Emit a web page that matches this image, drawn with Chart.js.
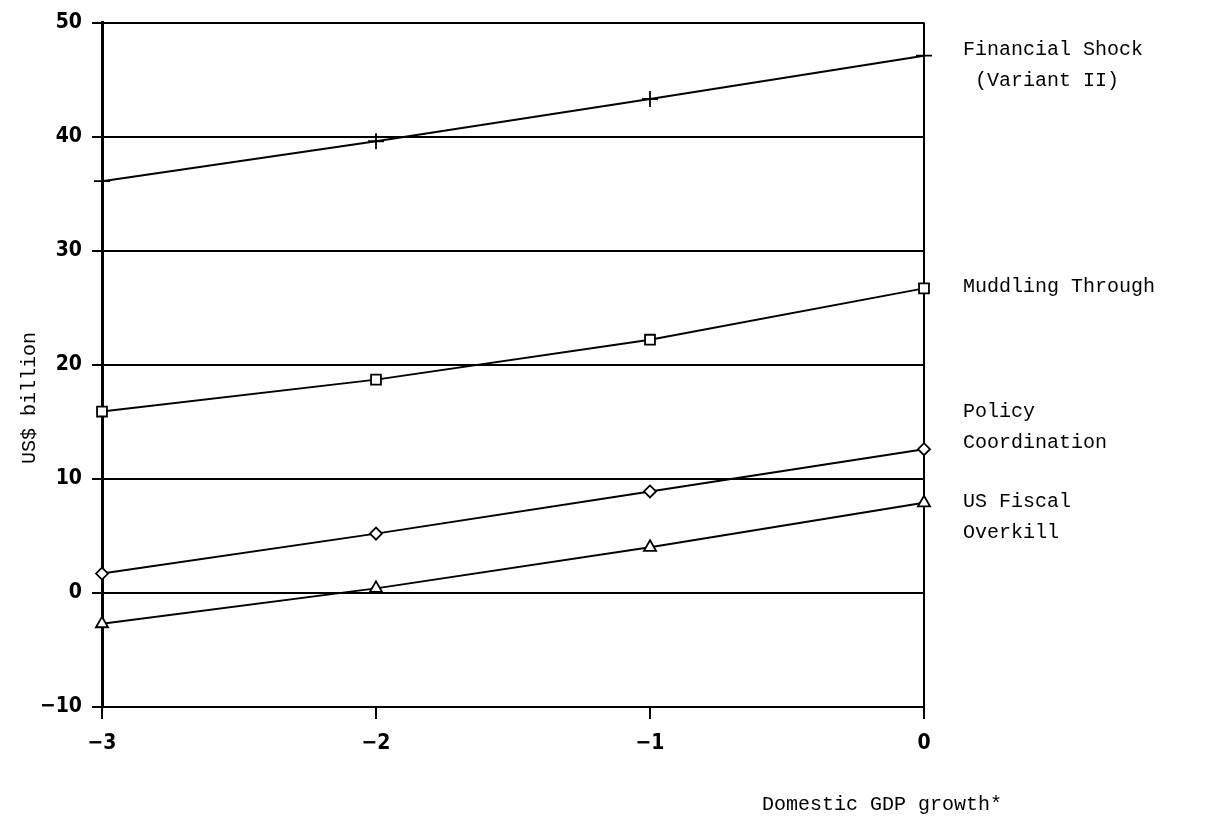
<!DOCTYPE html>
<html>
<head>
<meta charset="utf-8">
<script src="https://cdn.jsdelivr.net/npm/chart.js@4"></script>
<style>
  body { margin: 0; background: #fff; }
  canvas { display: block; }
</style>
</head>
<body>
<canvas id="chart" width="1224" height="826"></canvas>
<script>
// Domestic GDP growth (x) and the four scenarios (US$ billion)
const growth = [-3, -2, -1, 0];
const financialShock = [36.1, 39.6, 43.3, 47.1];
const muddlingThrough = [15.9, 18.7, 22.2, 26.7];
const policyCoordination = [1.7, 5.2, 8.9, 12.6];
const usFiscalOverkill = [-2.7, 0.4, 4.0, 7.9];
const yTicks = [-10, 0, 10, 20, 30, 40, 50];

const tickFont = { family: "'Liberation Sans Narrow', 'DejaVu Sans Condensed', sans-serif", size: 21, weight: 'bold' };
const textFont = "20px 'Liberation Mono', 'DejaVu Sans Mono', monospace";

function toPoints(values) {
    return growth.map((g, i) => ({ x: g, y: values[i] }));
}

function series(label, values, style, radius) {
    return {
        label: label,
        data: toPoints(values),
        borderColor: '#000',
        borderWidth: 2,
        pointStyle: style,
        pointRadius: radius,
        pointBorderWidth: 1.8,
        pointBorderColor: '#000',
        pointBackgroundColor: '#fff',
        tension: 0,
        clip: false
    };
}

// Text beside the lines and axis titles
const sideLabels = [
    { lines: ['Financial Shock', ' (Variant II)'], dx: 39, y: 50 },
    { lines: ['Muddling Through'], dx: 39, y: 287 },
    { lines: ['Policy', 'Coordination'], dx: 39, y: 412 },
    { lines: ['US Fiscal', 'Overkill'], dx: 39, y: 502 }
];

const textPlugin = {
    id: 'texts',
    afterDraw(chart) {
        const c = chart.ctx;
        const area = chart.chartArea;
        c.save();
        c.fillStyle = '#000';
        c.font = textFont;
        c.textBaseline = 'middle';
        c.textAlign = 'left';
        sideLabels.forEach(lbl => {
            lbl.lines.forEach((t, i) => {
                c.fillText(t, area.right + lbl.dx, lbl.y + i * 31);
            });
        });
        c.textAlign = 'center';
        c.fillText('Domestic GDP growth*', 882, 805);
        c.translate(30, 398);
        c.rotate(-Math.PI / 2);
        c.fillText('US$ billion', 0, 0);
        c.restore();
    }
};

new Chart(document.getElementById('chart'), {
    type: 'line',
    data: {
        datasets: [
            series('Financial Shock (Variant II)', financialShock, 'cross', 8),
            series('Muddling Through', muddlingThrough, 'rect', 7),
            series('Policy Coordination', policyCoordination, 'rectRot', 6),
            series('US Fiscal Overkill', usFiscalOverkill, 'triangle', 7)
        ]
    },
    options: {
        responsive: false,
        animation: false,
        layout: { padding: { left: 0, right: 300, top: 18, bottom: 0 } },
        plugins: {
            legend: { display: false },
            tooltip: { enabled: false }
        },
        scales: {
            x: {
                type: 'linear',
                min: -3,
                max: 0,
                afterFit(scale) { scale.height = 119; },
                afterBuildTicks(scale) { scale.ticks = growth.map(v => ({ value: v })); },
                border: { display: true, color: '#000', width: 2 },
                grid: {
                    color: ctx => (ctx.tick && ctx.tick.value === 0) ? '#000' : 'rgba(0,0,0,0)',
                    lineWidth: 2,
                    tickColor: '#000',
                    tickLength: 12,
                    drawTicks: true
                },
                ticks: {
                    color: '#000',
                    font: tickFont,
                    padding: 12,
                    callback: v => (v < 0 ? '\u2212' + Math.abs(v) : String(v))
                }
            },
            y: {
                min: -10,
                max: 50,
                afterFit(scale) { scale.width = 102; },
                afterBuildTicks(scale) { scale.ticks = yTicks.map(v => ({ value: v })); },
                border: { display: true, color: '#000', width: 3 },
                grid: {
                    color: '#000',
                    lineWidth: 2,
                    tickColor: '#000',
                    tickLength: 10,
                    drawTicks: true
                },
                ticks: {
                    color: '#000',
                    font: tickFont,
                    padding: 10,
                    callback: v => (v < 0 ? '\u2212' + Math.abs(v) : String(v))
                }
            }
        }
    },
    plugins: [textPlugin]
});
</script>
</body>
</html>
